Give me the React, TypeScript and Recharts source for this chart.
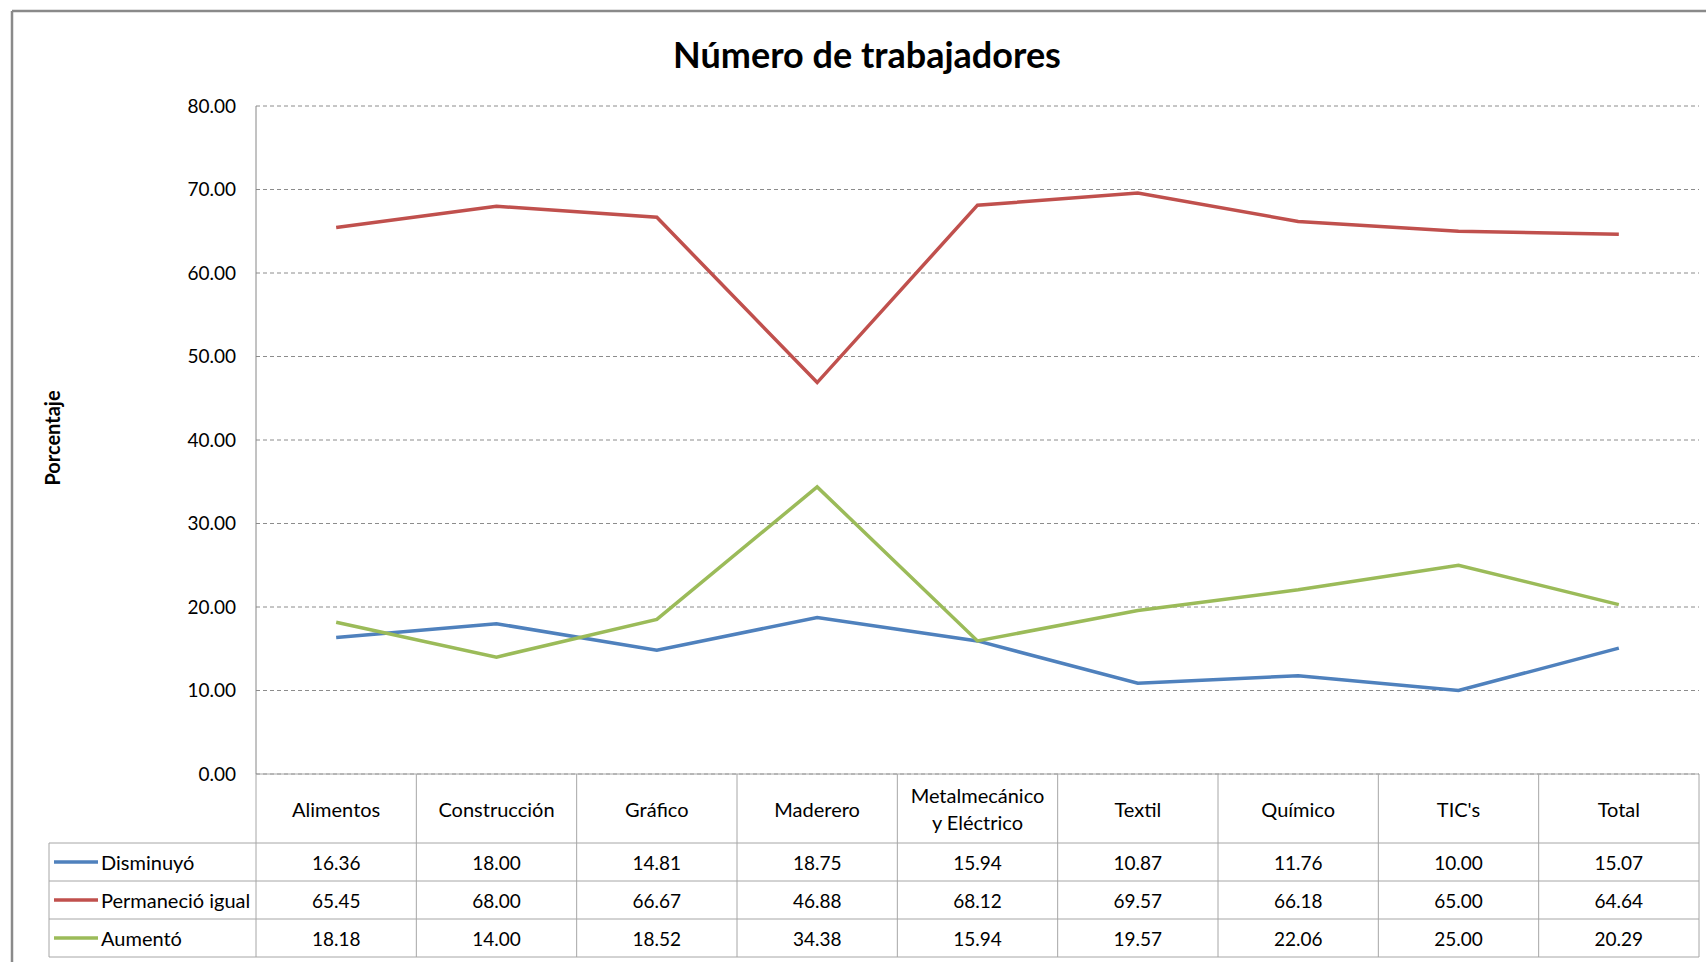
import { CartesianGrid, Customized, Line, LineChart, XAxis, YAxis } from "recharts";

const categories = [
  "Alimentos",
  "Construcción",
  "Gráfico",
  "Maderero",
  "Metalmecánico y Eléctrico",
  "Textil",
  "Químico",
  "TIC's",
  "Total",
];

const disminuyo = [16.36, 18.0, 14.81, 18.75, 15.94, 10.87, 11.76, 10.0, 15.07];
const permanecio = [65.45, 68.0, 66.67, 46.88, 68.12, 69.57, 66.18, 65.0, 64.64];
const aumento = [18.18, 14.0, 18.52, 34.38, 15.94, 19.57, 22.06, 25.0, 20.29];

const yTicks = [0, 10, 20, 30, 40, 50, 60, 70, 80];

const seriesNames = ["Disminuyó", "Permaneció igual", "Aumentó"];
const seriesKeys = ["d", "p", "a"];
const seriesValues = [disminuyo, permanecio, aumento];
const COLORS = ["#4F81BD", "#C0504D", "#9BBB59"];

const data = categories.map((name, i) => ({
  name,
  d: disminuyo[i],
  p: permanecio[i],
  a: aumento[i],
}));

// layout
const W = 1706;
const H = 962;
const PLOT_LEFT = 256;
const PLOT_RIGHT = 1699;
const PLOT_TOP = 106;
const AXIS_Y = 774;
const BAND = (PLOT_RIGHT - PLOT_LEFT) / categories.length;
const HEADER_H = 69;
const ROW_H = 38;
const TABLE_LEFT = 49;
const TABLE_BOTTOM = AXIS_Y + HEADER_H + ROW_H * 3;
const BORDER = "#a6a6a6";
const FONT = "Lato, 'Open Sans', sans-serif";

const splitLabel = (label: string) => {
  const idx = label.indexOf(" y ");
  return idx > 0 ? [label.slice(0, idx), label.slice(idx + 1)] : [label];
};

const TableTick = (props: any) => {
  const { x, y, payload, index } = props;
  const left = x - BAND / 2;
  const lines = splitLabel(String(payload.value));
  const headerMid = y + HEADER_H / 2;
  return (
    <g>
      {index === 0 && (
        <line x1={left} y1={y} x2={left} y2={TABLE_BOTTOM} stroke={BORDER} />
      )}
      <line x1={left + BAND} y1={y} x2={left + BAND} y2={TABLE_BOTTOM} stroke={BORDER} />
      {lines.map((ln, i) => (
        <text
          key={ln}
          x={x}
          y={headerMid + (i - (lines.length - 1) / 2) * 27}
          textAnchor="middle"
          dominantBaseline="central"
          fontSize={20}
          fontFamily={FONT}
          fill="#000"
        >
          {ln}
        </text>
      ))}
      {seriesValues.map((vals, r) => (
        <text
          key={r}
          x={x}
          y={y + HEADER_H + ROW_H * r + ROW_H / 2}
          textAnchor="middle"
          dominantBaseline="central"
          fontSize={19}
          fontFamily={FONT}
          fill="#000"
        >
          {vals[index].toFixed(2)}
        </text>
      ))}
    </g>
  );
};

const Decorations = () => (
  <g>
    <line x1={12} y1={11} x2={W} y2={11} stroke="#8a8a8a" strokeWidth={2.5} />
    <line x1={12} y1={11} x2={12} y2={H} stroke="#8a8a8a" strokeWidth={2.5} />
    <text
      x={867}
      y={54}
      textAnchor="middle"
      dominantBaseline="central"
      fontSize={36}
      fontWeight="bold"
      fontFamily={FONT}
      fill="#000"
    >
      Número de trabajadores
    </text>
    <text
      x={52}
      y={438}
      transform="rotate(-90 52 438)"
      textAnchor="middle"
      dominantBaseline="central"
      fontSize={20}
      fontWeight="bold"
      fontFamily={FONT}
      fill="#000"
    >
      Porcentaje
    </text>
    {/* data table rows */}
    {[0, 1, 2, 3].map((r) => (
      <line
        key={r}
        x1={TABLE_LEFT}
        y1={AXIS_Y + HEADER_H + ROW_H * r}
        x2={PLOT_RIGHT}
        y2={AXIS_Y + HEADER_H + ROW_H * r}
        stroke={BORDER}
      />
    ))}
    <line
      x1={TABLE_LEFT}
      y1={AXIS_Y + HEADER_H}
      x2={TABLE_LEFT}
      y2={TABLE_BOTTOM}
      stroke={BORDER}
    />
    {seriesNames.map((name, r) => {
      const cy = AXIS_Y + HEADER_H + ROW_H * r + ROW_H / 2;
      return (
        <g key={name}>
          <line x1={54} y1={cy} x2={98} y2={cy} stroke={COLORS[r]} strokeWidth={3.5} />
          <text
            x={101}
            y={cy}
            dominantBaseline="central"
            fontSize={20}
            fontFamily={FONT}
            fill="#000"
          >
            {name}
          </text>
        </g>
      );
    })}
  </g>
);

const App = () => {
  return (
    <div style={{ position: "absolute", left: 0, top: 0, width: W, height: H, background: "#fff" }}>
      <LineChart
        width={W}
        height={H}
        data={data}
        margin={{ top: PLOT_TOP, right: W - PLOT_RIGHT, bottom: 0, left: 0 }}
      >
        <CartesianGrid
          vertical={false}
          stroke="#8c8c8c"
          strokeDasharray="4 3"
        />
        <XAxis
          dataKey="name"
          height={H - AXIS_Y}
          padding={{ left: BAND / 2, right: BAND / 2 }}
          axisLine={{ stroke: BORDER }}
          tickLine={false}
          tickSize={0}
          tickMargin={0}
          interval={0}
          tick={<TableTick />}
        />
        <YAxis
          domain={[0, 80]}
          ticks={yTicks}
          width={PLOT_LEFT}
          tickFormatter={(v: number) => v.toFixed(2)}
          axisLine={{ stroke: "#868686" }}
          tickLine={false}
          tickSize={0}
          tickMargin={20}
          tick={{ fill: "#000", fontSize: 19, fontFamily: FONT }}
        />
        {seriesKeys.map((k, i) => (
          <Line
            key={k}
            dataKey={k}
            name={seriesNames[i]}
            stroke={COLORS[i]}
            strokeWidth={3.5}
            dot={false}
            activeDot={false}
            isAnimationActive={false}
          />
        ))}
        <Customized component={Decorations} />
      </LineChart>
    </div>
  );
};

export default App;
